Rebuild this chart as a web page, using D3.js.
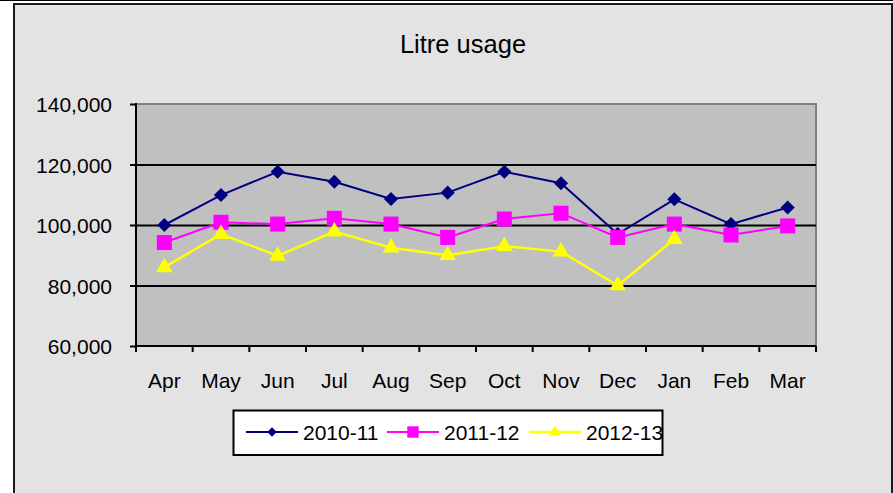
<!DOCTYPE html>
<html>
<head>
<meta charset="utf-8">
<script src="https://cdn.jsdelivr.net/npm/d3@7"></script>
<style>
  body { margin: 0; background: #fff; }
  svg { display: block; font-family: "Liberation Sans", Arial, sans-serif; }
</style>
</head>
<body>
<svg id="chart"></svg>
<script>
const months = ["Apr", "May", "Jun", "Jul", "Aug", "Sep", "Oct", "Nov", "Dec", "Jan", "Feb", "Mar"]
const usage2010 = [100000, 109900, 117600, 114300, 108600, 110700, 117600, 113800, 97000, 108500, 100300, 105800]
const usage2011 = [94200, 100900, 100300, 102200, 100300, 95900, 102000, 103900, 95900, 100300, 96700, 99700]
const usage2012 = [86000, 97000, 89800, 97800, 92500, 90000, 93000, 91200, 80000, 95300, null, null]
const yTicks = [60000, 80000, 100000, 120000, 140000]
const seriesNames = ["2010-11", "2011-12", "2012-13"]

let width = 893
let height = 493
let margin = { top: 104, left: 136, right: 77, bottom: 147 }
let bodyWidth = width - margin.left - margin.right
let bodyHeight = height - margin.top - margin.bottom

let svg = d3.select("#chart")
    .attr("width", width)
    .attr("height", height)

// outer frame
svg.append("line")
    .attr("x1", 0).attr("x2", width)
    .attr("y1", 0.5).attr("y2", 0.5)
    .attr("stroke", "#000")
    .attr("stroke-width", 1)

svg.append("rect")
    .attr("x", 14).attr("y", 4)
    .attr("width", 878).attr("height", height)
    .attr("fill", "#e3e3e3")
    .attr("stroke", "#1a1a1a")
    .attr("stroke-width", 2)

svg.append("text")
    .attr("x", 463)
    .attr("y", 52.5)
    .attr("text-anchor", "middle")
    .attr("font-size", 25.5)
    .attr("fill", "#000")
    .text("Litre usage")

let xScale = d3.scaleBand()
    .domain(months)
    .range([margin.left, margin.left + bodyWidth])
    .padding(0)

let yScale = d3.scaleLinear()
    .domain([60000, 140000])
    .range([margin.top + bodyHeight, margin.top])

// plot background
svg.append("rect")
    .attr("x", margin.left).attr("y", margin.top)
    .attr("width", bodyWidth).attr("height", bodyHeight)
    .attr("fill", "#c0c0c0")
    .attr("stroke", "#808080")
    .attr("stroke-width", 2)

// gridlines
svg.append("g")
    .attr("transform", `translate(${margin.left},0)`)
    .call(d3.axisLeft(yScale).tickValues(yTicks.slice(1, -1)).tickSize(-bodyWidth).tickFormat(""))
    .call(g => g.select(".domain").remove())
    .call(g => g.selectAll("line").attr("stroke", "#000").attr("stroke-width", 2))

// y axis
let yAxis = svg.append("g")
    .attr("transform", `translate(${margin.left},0)`)
    .call(d3.axisLeft(yScale).tickValues(yTicks).tickSize(6).tickPadding(18).tickFormat(d3.format(",")))
yAxis.select(".domain").attr("stroke", "#000").attr("stroke-width", 2).attr("d", `M0,${margin.top - 1}V${margin.top + bodyHeight}`)
yAxis.selectAll("line").attr("stroke", "#000").attr("stroke-width", 2)
yAxis.selectAll("text").attr("font-size", 21).attr("fill", "#000").attr("font-family", "Liberation Sans, Arial, sans-serif").attr("dy", "0.36em")

// x axis
let xAxis = svg.append("g")
    .attr("transform", `translate(0,${margin.top + bodyHeight})`)
    .call(d3.axisBottom(xScale).tickSize(0).tickPadding(27))
xAxis.select(".domain").attr("stroke", "#000").attr("stroke-width", 2).attr("d", `M${margin.left - 1},0H${margin.left + bodyWidth}`)
xAxis.selectAll("text").attr("font-size", 21).attr("fill", "#000").attr("font-family", "Liberation Sans, Arial, sans-serif")
xAxis.selectAll(".bound")
    .data(d3.range(months.length + 1))
    .enter()
    .append("line")
    .attr("x1", i => margin.left + i * xScale.step())
    .attr("x2", i => margin.left + i * xScale.step())
    .attr("y1", 0).attr("y2", 6)
    .attr("stroke", "#000")
    .attr("stroke-width", 2)

let series = [
    { name: seriesNames[0], values: usage2010, color: "#000080", width: 2, symbol: d3.symbolSquare, size: 100, rotate: 45, legendSize: 45 },
    { name: seriesNames[1], values: usage2011, color: "#ff00ff", width: 2, symbol: d3.symbolSquare, size: 225, rotate: 0, legendSize: 130 },
    { name: seriesNames[2], values: usage2012, color: "#ffff00", width: 2.5, symbol: d3.symbolTriangle, size: 120, rotate: 0, legendSize: 60 }
]

let line = d3.line()
    .defined(d => d != null)
    .x((d, i) => xScale(months[i]) + xScale.bandwidth() / 2)
    .y(d => yScale(d))

series.forEach(s => {
    svg.append("path")
        .datum(s.values)
        .attr("fill", "none")
        .attr("stroke", s.color)
        .attr("stroke-width", s.width)
        .attr("d", line)
})

series.forEach(s => {
    svg.append("g")
        .selectAll("path")
        .data(s.values.map((v, i) => ({ v, i })).filter(d => d.v != null))
        .enter()
        .append("path")
        .attr("d", d3.symbol().type(s.symbol).size(s.size))
        .attr("transform", d => `translate(${xScale(months[d.i]) + xScale.bandwidth() / 2},${yScale(d.v)}) rotate(${s.rotate})`)
        .attr("fill", s.color)
})

// legend
svg.append("rect")
    .attr("x", 233.5).attr("y", 410.5)
    .attr("width", 429).attr("height", 44.5)
    .attr("fill", "#fff")
    .attr("stroke", "#000")
    .attr("stroke-width", 2)

let legendX = [246, 387, 529]
series.forEach((s, k) => {
    let g = svg.append("g").attr("transform", `translate(${legendX[k]},432)`)
    g.append("line")
        .attr("x1", 0).attr("x2", 52)
        .attr("y1", 0).attr("y2", 0)
        .attr("stroke", s.color)
        .attr("stroke-width", s.width)
    g.append("path")
        .attr("d", d3.symbol().type(s.symbol).size(s.legendSize))
        .attr("transform", `translate(26,0) rotate(${s.rotate})`)
        .attr("fill", s.color)
    g.append("text")
        .attr("x", 57)
        .attr("y", 7.5)
        .attr("font-size", 21)
        .attr("fill", "#000")
        .text(s.name)
})
</script>
</body>
</html>
